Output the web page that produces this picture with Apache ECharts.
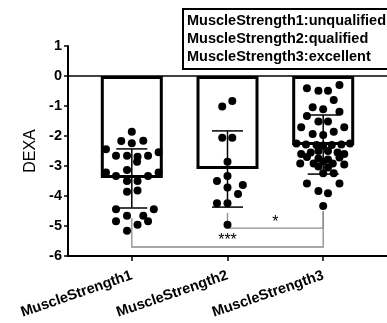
<!DOCTYPE html>
<html><head><meta charset="utf-8">
<script src="https://cdn.jsdelivr.net/npm/echarts@6/dist/echarts.min.js"></script>
<style>html,body{margin:0;padding:0;background:#fff}#c{width:387px;height:323px}</style>
</head><body><div id="c"></div>
<script>
const categories = ['MuscleStrength1', 'MuscleStrength2', 'MuscleStrength3'];
const legendLines = ['MuscleStrength1:unqualified', 'MuscleStrength2:qualified', 'MuscleStrength3:excellent'];
const means = [-3.4, -3.1, -2.3];
const errLow = [-4.4, -4.37, -3.27];
const errHigh = [-2.43, -1.83, -1.3];
// dots: [jitter offset in category units, DEXA value]
const dots1 = [[0,-1.86],[-0.11,-2.17],[0.12,-2.16],[0,-2.24],[-0.27,-2.44],[0.28,-2.54],[-0.165,-2.66],[-0.05,-2.66],[0.06,-2.69],[0.17,-2.66],[0.055,-2.86],[-0.05,-3.13],[-0.27,-3.22],[-0.165,-3.33],[0.17,-3.33],[0.28,-3.22],[-0.05,-3.5],[0.06,-3.5],[-0.05,-3.86],[0.06,-3.82],[-0.165,-4.44],[0.23,-4.44],[-0.165,-4.84],[-0.05,-4.66],[0.12,-4.66],[0.06,-4.96],[0.17,-4.84],[-0.05,-5.16]];
const dots2 = [[0.05,-0.83],[-0.055,-1.02],[-0.055,-2.06],[0.05,-2.06],[0,-2.86],[0,-3.33],[-0.11,-3.5],[0,-3.72],[0.16,-3.63],[0.11,-3.93],[-0.11,-4.24],[0,-4.24],[0,-4.96]];
const dots3 = [[0.17,-0.3],[-0.17,-0.41],[-0.05,-0.49],[0.05,-0.49],[0.11,-0.8],[-0.11,-1.04],[0,-1.11],[0.17,-1.19],[-0.17,-1.33],[-0.05,-1.52],[0.05,-1.52],[-0.23,-1.71],[0.22,-1.71],[-0.11,-1.93],[0,-1.97],[0.11,-1.86],
  [-0.28,-2.25],[-0.18,-2.28],[-0.07,-2.3],[0,-2.32],[0.09,-2.3],[0.19,-2.28],[0.28,-2.25],
  [-0.23,-2.6],[-0.13,-2.55],[-0.05,-2.5],[0.05,-2.5],[0.15,-2.55],[0.22,-2.6],[-0.17,-2.7],[-0.05,-2.75],[0.05,-2.78],[0.17,-2.72],[-0.24,-2.92],[-0.1,-2.92],[0,-2.85],[0.1,-2.92],[0.22,-2.95],[-0.05,-3.02],[0.05,-3.05],
  [0,-3.24],[0.11,-3.24],[-0.17,-3.58],[0.17,-3.58],[-0.05,-3.83],[0.05,-3.91],[0,-4.33]];
// significance brackets
const bracketFrom = [1, 2];
const bracketTo = [3, 3];
const bracketY = [-5.7, -5.07];
const bracketLeftTop = [-4.73, -4.57];
const bracketRightTop = [-4.5, -4.5];
const bracketMarks = ['***', '*'];

const FONT = 'Liberation Sans, Arial, sans-serif';
const groups = [dots1, dots2, dots3];
const scatterData = [];
groups.forEach((g, i) => g.forEach(d => scatterData.push([i + 1 + d[0], d[1]])));
const barData = means.map((m, i) => [i + 1, m]);
const errData = means.map((m, i) => [i + 1, errLow[i], errHigh[i]]);
const brData = bracketFrom.map((f, i) => [f, bracketTo[i], bracketY[i], bracketLeftTop[i], bracketRightTop[i], i]);

const chart = echarts.init(document.getElementById('c'), null, {renderer: 'canvas'});
chart.setOption({
  animation: false,
  backgroundColor: '#fff',
  grid: {left: 68, right: 0, top: 46, bottom: 67},
  xAxis: {
    type: 'value', min: 1/3, max: 11/3,
    splitLine: {show: false},
    axisLine: {onZero: false, lineStyle: {color: '#000', width: 2}},
    axisTick: {show: true, customValues: [1, 2, 3], length: 5, lineStyle: {color: '#000', width: 1.5}},
    axisLabel: {customValues: [1, 2, 3], rotate: 19, margin: 19, color: '#000', fontWeight: 'bold', fontSize: 14.5, fontFamily: FONT,
      formatter: v => categories[Math.round(v) - 1] || ''}
  },
  yAxis: {
    type: 'value', min: -6, max: 1, interval: 1,
    name: 'DEXA', nameLocation: 'middle', nameGap: 23,
    nameTextStyle: {color: '#000', fontSize: 16, fontFamily: FONT},
    splitLine: {show: false},
    axisLine: {show: true, onZero: false, lineStyle: {color: '#000', width: 2}},
    axisTick: {show: true, length: 4, lineStyle: {color: '#000', width: 1.5}},
    axisLabel: {color: '#000', fontWeight: 'bold', fontSize: 14.5, fontFamily: FONT, margin: 6}
  },
  graphic: [
    {type: 'rect', left: 182, top: 8, shape: {width: 230, height: 60}, style: {fill: '#fff', stroke: '#000', lineWidth: 2}, z: 100},
    ...legendLines.map((t, i) => ({type: 'text', left: 187, top: 13 + i * 18, z: 101,
      style: {text: t, fill: '#000', font: 'bold 14.5px ' + FONT}}))
  ],
  series: [
    {
      type: 'bar', data: barData, barWidth: 62, silent: true, z: 1,
      itemStyle: {color: '#fff', borderColor: '#000', borderWidth: 3},
      markLine: {silent: true, symbol: 'none', label: {show: false},
        lineStyle: {color: '#000', width: 1.5, type: 'solid'}, data: [{yAxis: 0}]}
    },
    {
      type: 'custom', data: brData, z: 2, silent: true,
      renderItem: (params, api) => {
        const a = api.coord([api.value(0), api.value(3)]);
        const b = api.coord([api.value(0), api.value(2)]);
        const c = api.coord([api.value(1), api.value(2)]);
        const d = api.coord([api.value(1), api.value(4)]);
        const idx = api.value(5);
        const mid = api.coord([(api.value(0) + api.value(1)) / 2, api.value(2)]);
        return {type: 'group', children: [
          {type: 'polyline', shape: {points: [a, b, c, d]}, style: {stroke: '#8c8c8c', lineWidth: 1.3, fill: null}},
          {type: 'text', style: {text: bracketMarks[idx], x: mid[0], y: mid[1] + 2, align: 'center', verticalAlign: 'bottom', fill: '#000', font: '16px ' + FONT}}
        ]};
      }
    },
    {
      type: 'scatter', data: scatterData, symbol: 'circle', symbolSize: 8, z: 3, silent: true,
      itemStyle: {color: '#000', opacity: 1}
    },
    {
      type: 'custom', data: errData, z: 4, silent: true,
      renderItem: (params, api) => {
        const x = api.value(0);
        const lo = api.coord([x, api.value(1)]);
        const hi = api.coord([x, api.value(2)]);
        const w = 15.5;
        const st = {stroke: '#000', lineWidth: 1.5};
        return {type: 'group', children: [
          {type: 'line', shape: {x1: hi[0], y1: hi[1], x2: lo[0], y2: lo[1]}, style: st},
          {type: 'line', shape: {x1: hi[0] - w, y1: hi[1], x2: hi[0] + w, y2: hi[1]}, style: st},
          {type: 'line', shape: {x1: lo[0] - w, y1: lo[1], x2: lo[0] + w, y2: lo[1]}, style: st}
        ]};
      }
    }
  ]
});
</script></body></html>
